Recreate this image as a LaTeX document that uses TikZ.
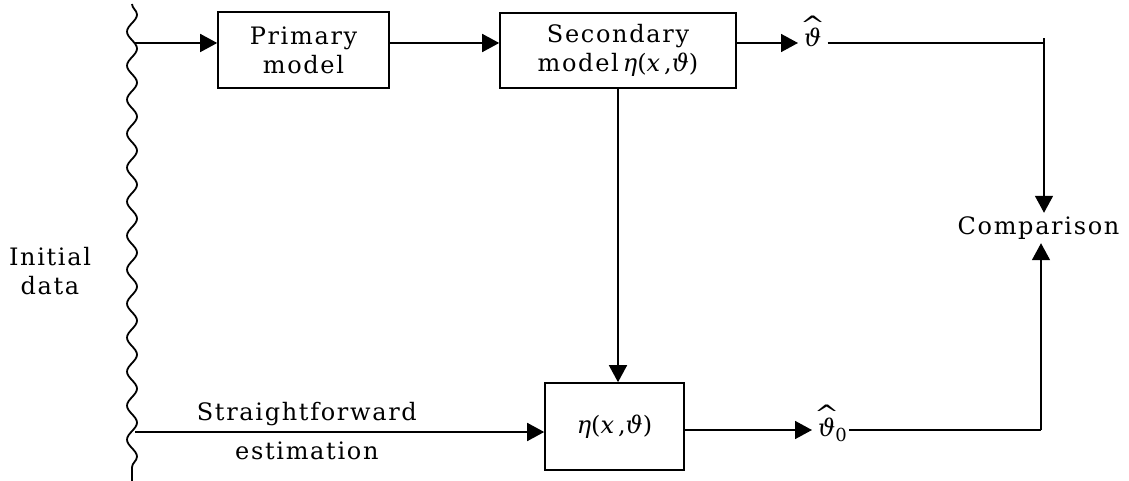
\documentclass[tikz,border=0pt]{standalone}
\usepackage{graphicx}
\usepackage[no-math]{fontspec}
\setmainfont{DejaVu Serif}[LetterSpace=7]
\usetikzlibrary{arrows.meta,decorations.pathmorphing}

% italic letters taken from the text font
\newcommand{\itl}[1]{\hbox{\itshape #1}}
\newcommand{\etaxt}{\itl{η}(\itl{x}\,,\itl{ϑ})}
% theta with a wide hat set clear above it
\newcommand{\thhat}{\leavevmode\vbox{\offinterlineskip\halign{\hfil##\hfil\cr
  \scalebox{1.25}[1]{\textasciicircum}\cr\noalign{\kern-5pt}\itshape ϑ\cr}}}

\tikzset{
  txt/.style={font=\fontsize{24}{29}\selectfont, inner sep=0pt, align=center},
  blockbox/.style={draw, line width=1.6pt, inner sep=0pt, txt},
  flow/.style={line width=1.6pt, -{Triangle[length=17pt,width=18pt]}},
  wire/.style={line width=1.6pt},
  wavy/.style={line width=1.8pt, decorate,
    decoration={snake, amplitude=5pt, segment length=34pt}}
}

\begin{document}
\begin{tikzpicture}[x=1pt, y=-1pt]
\useasboundingbox (0,0) rectangle (1129,481);

% wavy boundary of the initial data
\coordinate (wtop) at (132,4);
\coordinate (wbot) at (132,481);
\draw[wavy] (wtop) -- (wbot);
\node[txt] (init) at (50,271) {Initial\\data};

% entry points on the data boundary
\coordinate (in1) at (135,43);
\coordinate (in2) at (135,432);

% blocks
\node[blockbox, minimum width=171pt, minimum height=76pt] (primary) at (303.5,50) {Primary\\model};
\node[blockbox, minimum width=236pt, minimum height=75pt] (secondary) at (618,50.5)
  {Secondary\\model\,\etaxt};
\node[blockbox, minimum width=139pt, minimum height=87pt] (eta) at (614.5,426.5)
  {\etaxt};

% outputs and comparison
\node[txt, anchor=base west, inner xsep=2pt] (th) at (798,47) {\thhat};
\node[txt, anchor=base west, inner xsep=2pt] (th0) at (812,436)
  {\thhat\kern-4pt\raisebox{-5pt}{\fontsize{18}{18}\selectfont 0}};
\node[txt, inner sep=0pt, minimum height=30pt] (cmp) at (1038.5,228) {Comparison};
\coordinate (c1) at (1044,43);
\coordinate (c2) at (1041,430);

% upper path
\draw[flow] (in1) -- (in1 -| primary.west);
\draw[flow] (primary.east |- in1) -- (secondary.west |- in1);
\draw[flow] (secondary.east |- in1) -- (th.west |- in1);
\draw[wire] (th.east |- in1) -- (c1);
\draw[wire] (c1) -- ++(0,-5);
\draw[flow] (c1) -- (c1 |- cmp.north);

% secondary model feeds the evaluation block
\draw[flow] (secondary.south) -- (secondary.south |- eta.north);

% lower path
\draw[flow] (in2) -- node[txt, above=5pt, pos=0.42] {Straightforward}
  node[txt, below=9pt, pos=0.42] {estimation} (in2 -| eta.west);
\draw[flow] (eta.east |- c2) -- (th0.west |- c2);
\draw[wire] (th0.east |- c2) -- (c2);
\draw[flow] (c2) -- (c2 |- cmp.south);
\end{tikzpicture}
\end{document}
